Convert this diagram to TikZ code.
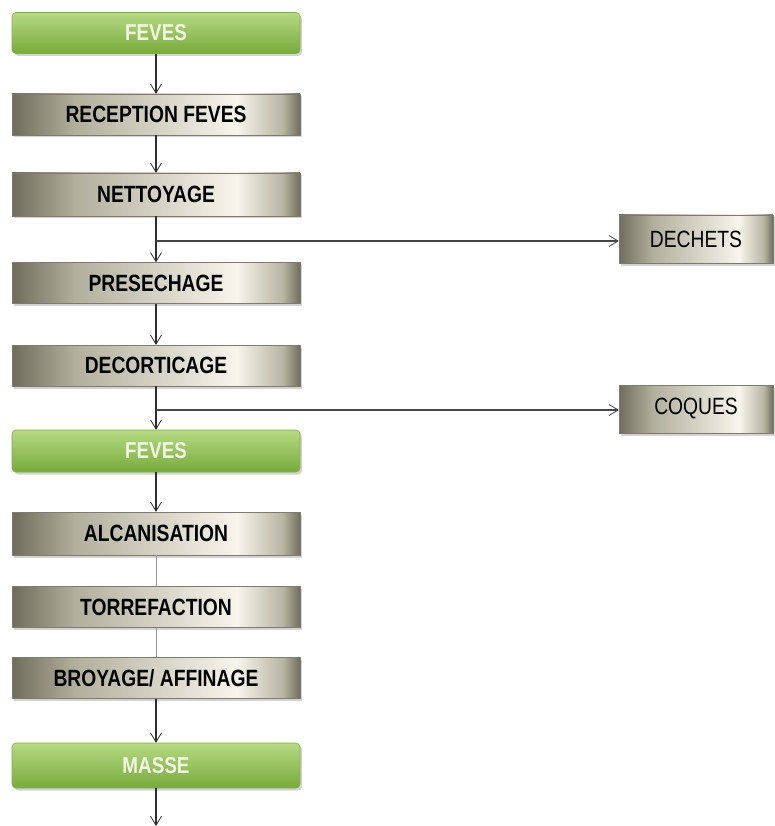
\documentclass[tikz,border=0pt]{standalone}
\usepackage{fontspec}
\setmainfont{Liberation Sans}
\newfontfamily\narrowsans{Liberation Sans}[FakeStretch=0.82]
\usetikzlibrary{arrows.meta,shadows}

% colours of the metallic process boxes
\definecolor{stepL}{HTML}{6E6C5A}
\definecolor{stepA}{HTML}{B2AF9D}
\definecolor{stepM}{HTML}{F7F5EC}
\definecolor{stepB}{HTML}{B8B5A4}
\definecolor{stepR}{HTML}{6F6D5B}
% colours of the green product boxes
\definecolor{prodTop}{HTML}{B6DA84}
\definecolor{prodMid}{HTML}{93C552}
\definecolor{prodBot}{HTML}{78AA3C}
\definecolor{prodLine}{HTML}{80AF42}
\definecolor{prodText}{HTML}{F2F8E4}
\definecolor{lineDark}{HTML}{2E2E2E}

% the path is fitted to the 25bp--75bp band of the shading
\pgfdeclarehorizontalshading{stepshade}{100bp}{%
  color(0bp)=(stepL); color(25bp)=(stepL); color(36bp)=(stepA);
  color(64bp)=(stepM); color(72bp)=(stepB); color(75bp)=(stepR);
  color(100bp)=(stepR)}

\tikzset{
  stepbox/.style={shading=stepshade, draw=stepA!70!black, line width=0.4pt,
    minimum width=288pt, minimum height=41pt, inner sep=0pt,
    font=\narrowsans\bfseries\fontsize{23.5}{23.5}\selectfont, text=black,
    drop shadow={shadow xshift=2pt, shadow yshift=-2.5pt, opacity=0.35}},
  prodbox/.style={rounded corners=4pt, top color=prodTop, middle color=prodMid,
    bottom color=prodBot, draw=prodLine, line width=0.6pt,
    minimum width=288pt, minimum height=41pt, inner sep=0pt,
    font=\narrowsans\bfseries\fontsize{23}{23}\selectfont, text=prodText,
    drop shadow={shadow xshift=2pt, shadow yshift=-2.5pt, opacity=0.35}},
  sidebox/.style={stepbox, minimum width=154pt, minimum height=48pt,
    font=\narrowsans\fontsize{23.5}{23.5}\selectfont},
  flow/.style={draw=lineDark, line width=1.1pt,
    -{Straight Barb[length=9pt,width=11pt,line width=0.8pt]}},
  plainlink/.style={draw=gray!80, line width=0.9pt},
  branch/.style={draw=gray!55!black, line width=1.1pt,
    -{Straight Barb[length=9pt,width=11pt,line width=0.8pt]}}
}

\begin{document}
\begin{tikzpicture}[x=1pt,y=-1pt]
  \useasboundingbox (0,0) rectangle (774,826);

  % main column
  \node[prodbox] (feves1) at (156,33)    {FEVES};
  \node[stepbox] (recep)  at (156,114.5) {RECEPTION FEVES};
  \node[stepbox, minimum height=43pt] (nett) at (156,194.5) {NETTOYAGE};
  \node[stepbox] (prese)  at (156,283)   {PRESECHAGE};
  \node[stepbox] (decor)  at (156,365.5) {DECORTICAGE};
  \node[prodbox, minimum height=42pt] (feves2) at (156,451) {FEVES};
  \node[stepbox, minimum height=43pt] (alcan) at (156,533.5) {ALCANISATION};
  \node[stepbox] (torre)  at (156,607)   {TORREFACTION};
  \node[stepbox] (broy)   at (156,678)   {BROYAGE/ AFFINAGE};
  \node[prodbox, minimum height=45pt] (masse) at (156,765.5) {MASSE};

  % by-products
  \node[sidebox] (dechets) at (696,239) {DECHETS};
  \node[sidebox] (coques)  at (696,409) {COQUES};

  % flow connectors
  \draw[flow] (feves1) -- (recep);
  \draw[flow] (recep) -- (nett);
  \draw[flow] (nett) -- (prese);
  \draw[flow] (prese) -- (decor);
  \draw[flow] (decor) -- (feves2);
  \draw[flow] (feves2) -- (alcan);
  \draw[plainlink] (alcan) -- (torre);
  \draw[plainlink] (torre) -- (broy);
  \draw[flow] (broy) -- (masse);
  \coordinate (out) at (156,826);
  \draw[flow] (masse) -- (out);

  % side branches
  \coordinate (b1) at (156,241);
  \coordinate (b2) at (156,410);
  \draw[branch] (b1) -- (b1 -| dechets.west);
  \draw[branch] (b2) -- (b2 -| coques.west);
\end{tikzpicture}
\end{document}
